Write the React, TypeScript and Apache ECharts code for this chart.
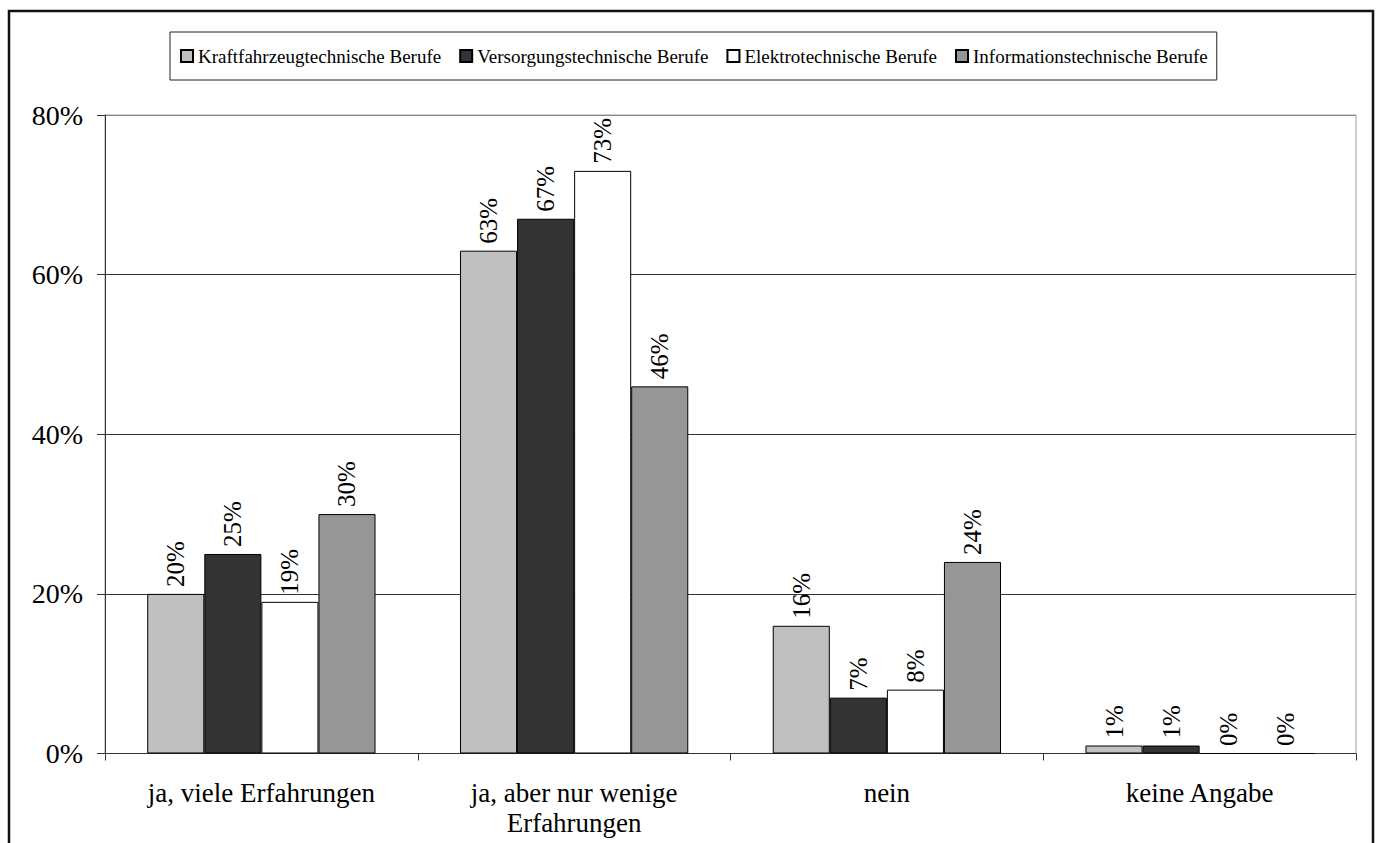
import React, { useEffect, useRef } from "react";
import * as echarts from "echarts";

// Survey answers (x axis) and the share per occupational group, in percent
const categories = [
  "ja, viele Erfahrungen",
  "ja, aber nur wenige\nErfahrungen",
  "nein",
  "keine Angabe",
];
const kraftfahrzeug = [20, 63, 16, 1];
const versorgung = [25, 67, 7, 1];
const elektro = [19, 73, 8, 0];
const information = [30, 46, 24, 0];

const seriesNames = [
  "Kraftfahrzeugtechnische Berufe",
  "Versorgungstechnische Berufe",
  "Elektrotechnische Berufe",
  "Informationstechnische Berufe",
];
const seriesColors = ["#c0c0c0", "#333333", "#ffffff", "#969696"];
const yTicks = [0, 20, 40, 60, 80];

const FONT = "Liberation Serif";

export default function App() {
  const ref = useRef<HTMLDivElement>(null);

  useEffect(() => {
    if (!ref.current) return;
    const chart = echarts.init(ref.current, null, { renderer: "svg" });
    const values = [kraftfahrzeug, versorgung, elektro, information];

    const option = {
      animation: false,
      backgroundColor: "#ffffff",
      textStyle: { fontFamily: FONT, color: "#000" },
      // outer frame around the whole chart
      graphic: [
        {
          type: "rect",
          silent: true,
          z: 100,
          shape: { x: 9, y: 11, width: 1364, height: 900 },
          style: { fill: "none", stroke: "#111", lineWidth: 2.5 },
        },
      ],
      legend: {
        left: 170,
        top: 32,
        padding: [14, 9, 14, 10],
        borderColor: "#222",
        borderWidth: 1,
        itemWidth: 12,
        itemHeight: 12,
        itemGap: 18,
        icon: "rect",
        textStyle: {
          fontFamily: FONT,
          fontSize: 19,
          lineHeight: 20,
          color: "#000",
        },
        data: seriesNames,
      },
      grid: {
        left: 105,
        top: 115,
        width: 1251,
        height: 638.5,
        show: true,
        borderColor: "#a0a0a0",
        borderWidth: 1,
        containLabel: false,
      },
      xAxis: {
        type: "category",
        data: categories,
        axisLine: { show: true, lineStyle: { color: "#333", width: 1 } },
        axisTick: { show: true, length: 7, lineStyle: { color: "#333" } },
        axisLabel: {
          fontFamily: FONT,
          fontSize: 27,
          lineHeight: 30,
          color: "#000",
          margin: 24,
          interval: 0,
        },
        splitLine: { show: false },
      },
      yAxis: {
        type: "value",
        min: yTicks[0],
        max: yTicks[yTicks.length - 1],
        interval: 20,
        axisLine: { show: true, lineStyle: { color: "#333", width: 1 } },
        axisTick: { show: true, length: 8, lineStyle: { color: "#333" } },
        axisLabel: {
          fontFamily: FONT,
          fontSize: 28,
          color: "#000",
          margin: 22,
          formatter: "{value}%",
        },
        splitLine: {
          show: true,
          lineStyle: {
            color: ["#333", "#333", "#333", "#333", "#888"],
            width: 1,
          },
        },
      },
      series: seriesNames.map((name, i) => ({
        name,
        type: "bar",
        data: values[i],
        barGap: "0%",
        barCategoryGap: "27%",
        itemStyle: {
          color: seriesColors[i],
          borderColor: "#000",
          borderWidth: 1,
        },
        label: {
          show: true,
          position: "top",
          rotate: 90,
          align: "left",
          verticalAlign: "middle",
          distance: 7,
          fontFamily: FONT,
          fontSize: 25,
          color: "#000",
          formatter: "{c}%",
        },
      })),
    };

    chart.setOption(option as any);
    return () => chart.dispose();
  }, []);

  return (
    <div
      ref={ref}
      style={{
        position: "absolute",
        left: 0,
        top: 0,
        width: 1376,
        height: 843,
        overflow: "hidden",
      }}
    />
  );
}
